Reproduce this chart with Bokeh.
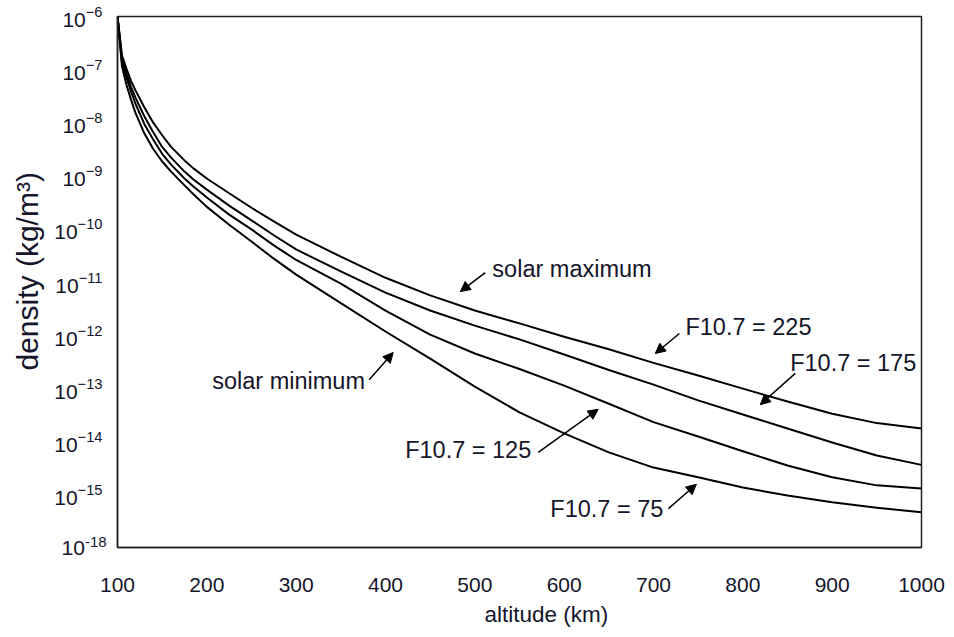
from bokeh.plotting import figure
from bokeh.models import FixedTicker, Label, Arrow, NormalHead, Title
from bokeh.embed import file_html
from bokeh.resources import INLINE

# Atmospheric density vs altitude for four levels of solar activity (F10.7)
altitude = [100, 105, 110, 115, 120, 130, 140, 150, 160, 175, 185, 200, 225,
            250, 275, 300, 350, 400, 450, 500, 550, 600, 650, 700, 750, 800,
            850, 900, 950, 1000]

rho_f225 = [1.0e-6, 1.86e-7, 1.05e-7, 6.2e-8, 4.1e-8, 1.95e-8, 1.0e-8, 5.8e-9,
            3.5e-9, 1.95e-9, 1.38e-9, 8.9e-10, 4.7e-10, 2.5e-10, 1.38e-10,
            7.8e-11, 3.0e-11, 1.2e-11, 5.6e-12, 2.9e-12, 1.66e-12, 9.3e-13,
            5.4e-13, 3.0e-13, 1.74e-13, 9.8e-14, 5.6e-14, 3.3e-14, 2.2e-14,
            1.74e-14]

rho_f175 = [1.0e-6, 1.62e-7, 8.5e-8, 4.8e-8, 3.0e-8, 1.32e-8, 6.6e-9, 3.5e-9,
            2.2e-9, 1.2e-9, 8.5e-10, 5.5e-10, 2.75e-10, 1.45e-10, 7.6e-11,
            4.1e-11, 1.58e-11, 6.3e-12, 2.9e-12, 1.51e-12, 8.3e-13, 4.3e-13,
            2.2e-13, 1.17e-13, 5.9e-14, 3.2e-14, 1.74e-14, 9.5e-15, 5.4e-15,
            3.6e-15]

rho_f125 = [1.0e-6, 1.41e-7, 7.1e-8, 3.9e-8, 2.3e-8, 9.5e-9, 4.8e-9, 2.6e-9,
            1.62e-9, 8.9e-10, 6.3e-10, 3.9e-10, 1.86e-10, 9.8e-11, 4.9e-11,
            2.6e-11, 9.3e-12, 2.9e-12, 1.02e-12, 4.5e-13, 2.3e-13, 1.12e-13,
            5.1e-14, 2.3e-14, 1.23e-14, 6.5e-15, 3.5e-15, 2.1e-15, 1.48e-15,
            1.29e-15]

rho_f75 = [1.0e-6, 1.15e-7, 5.2e-8, 2.75e-8, 1.55e-8, 6.3e-9, 3.2e-9, 1.86e-9,
           1.2e-9, 6.6e-10, 4.5e-10, 2.6e-10, 1.2e-10, 5.8e-11, 2.75e-11,
           1.38e-11, 4.0e-12, 1.17e-12, 3.6e-13, 1.07e-13, 3.5e-14, 1.41e-14,
           6.2e-15, 3.2e-15, 2.1e-15, 1.35e-15, 9.5e-16, 7.1e-16, 5.6e-16,
           4.6e-16]

x_ticks = [100, 200, 300, 400, 500, 600, 700, 800, 900, 1000]
y_ticks = [1e-16, 1e-15, 1e-14, 1e-13, 1e-12, 1e-11, 1e-10, 1e-9, 1e-8, 1e-7,
           1e-6]
bottom_tick_base = "10"
bottom_tick_exponent = "-18"

FONT = "Liberation Sans"
INK = "#15152b"

W, H = 954, 637
LEFT, RIGHT, TOP, BOTTOM = 117, 33, 16, 90

p = figure(width=W, height=H, x_range=(100, 1000), y_range=(1e-16, 1e-6),
           y_axis_type="log", output_backend="svg", toolbar_location=None,
           min_border_left=LEFT, min_border_right=RIGHT, min_border_top=TOP,
           min_border_bottom=BOTTOM)

p.background_fill_color = "white"
p.border_fill_color = "white"
p.grid.visible = False
p.outline_line_color = "#222222"
p.outline_line_width = 1.5

for series in (rho_f225, rho_f175, rho_f125, rho_f75):
    p.line(altitude, series, line_color="black", line_width=2,
           line_join="round")

# axes
p.xaxis.ticker = FixedTicker(ticks=x_ticks)
p.yaxis.ticker = FixedTicker(ticks=y_ticks)
p.yaxis.major_label_overrides = {y_ticks[0]: " "}

for ax in (p.xaxis[0], p.yaxis[0]):
    ax.axis_line_color = "#222222"
    ax.axis_line_width = 1.5
    ax.major_tick_line_color = None
    ax.minor_tick_line_color = None
    ax.major_label_text_font = FONT
    ax.major_label_text_font_size = "21px"
    ax.major_label_text_color = INK

p.xaxis.major_label_standoff = 24
p.yaxis.major_label_standoff = 9


def px_to_x(px):
    # horizontal canvas pixel -> altitude in data units
    frame_w = W - LEFT - RIGHT
    return 100 + (px - LEFT) * 900 / frame_w


# bottom tick label of the density axis; data-positioned, kept in roomy
# side panels so it is not clipped by the frame
p.add_layout(Label(x=px_to_x(61), y=y_ticks[0], text=bottom_tick_base,
                   text_font=FONT, text_font_size="21px", text_color=INK,
                   text_align="left", text_baseline="middle"), "right")
p.add_layout(Label(x=px_to_x(84.5), y=y_ticks[0], y_offset=6,
                   text=bottom_tick_exponent, text_font=FONT,
                   text_font_size="15px", text_color=INK,
                   text_align="left", text_baseline="middle"), "above")

# axis titles
p.add_layout(Title(text="density (kg/m³)", align="left", offset=177,
                   text_font=FONT, text_font_size="30px",
                   text_font_style="normal", text_color=INK, standoff=15),
             "left")
p.add_layout(Title(text="altitude (km)", align="left", offset=367,
                   text_font=FONT, text_font_size="22.5px",
                   text_font_style="normal", text_color=INK, standoff=10),
             "below")

# curve annotations
notes = [
    ("solar maximum", 519.6, 1.78e-11),
    ("F10.7 = 225", 735.7, 1.45e-12),
    ("F10.7 = 175", 853.0, 3.0e-13),
    ("F10.7 = 125", 422.0, 6.8e-15),
    ("F10.7 = 75", 584.5, 5.4e-16),
    ("solar minimum", 206.0, 1.35e-13),
]
for text, x, y in notes:
    p.add_layout(Label(x=x, y=y, text=text, text_font=FONT,
                       text_font_size="23.5px", text_color=INK,
                       text_baseline="middle", text_align="left"))

pointers = [
    (511.6, 1.5e-11, 483.7, 6.6e-12),
    (729.0, 1.07e-12, 702.0, 4.5e-13),
    (858.7, 1.9e-13, 819.5, 4.9e-14),
    (571.0, 6.2e-15, 638.0, 4.0e-14),
    (716.7, 5.4e-16, 748.0, 1.55e-15),
    (381.7, 1.45e-13, 408.6, 4.7e-13),
]
for x0, y0, x1, y1 in pointers:
    p.add_layout(Arrow(x_start=x0, y_start=y0, x_end=x1, y_end=y1,
                       line_color="black", line_width=1.5,
                       end=NormalHead(size=10, fill_color="black",
                                      line_color="black")))

open("out.html", "w").write(file_html(p, INLINE))
